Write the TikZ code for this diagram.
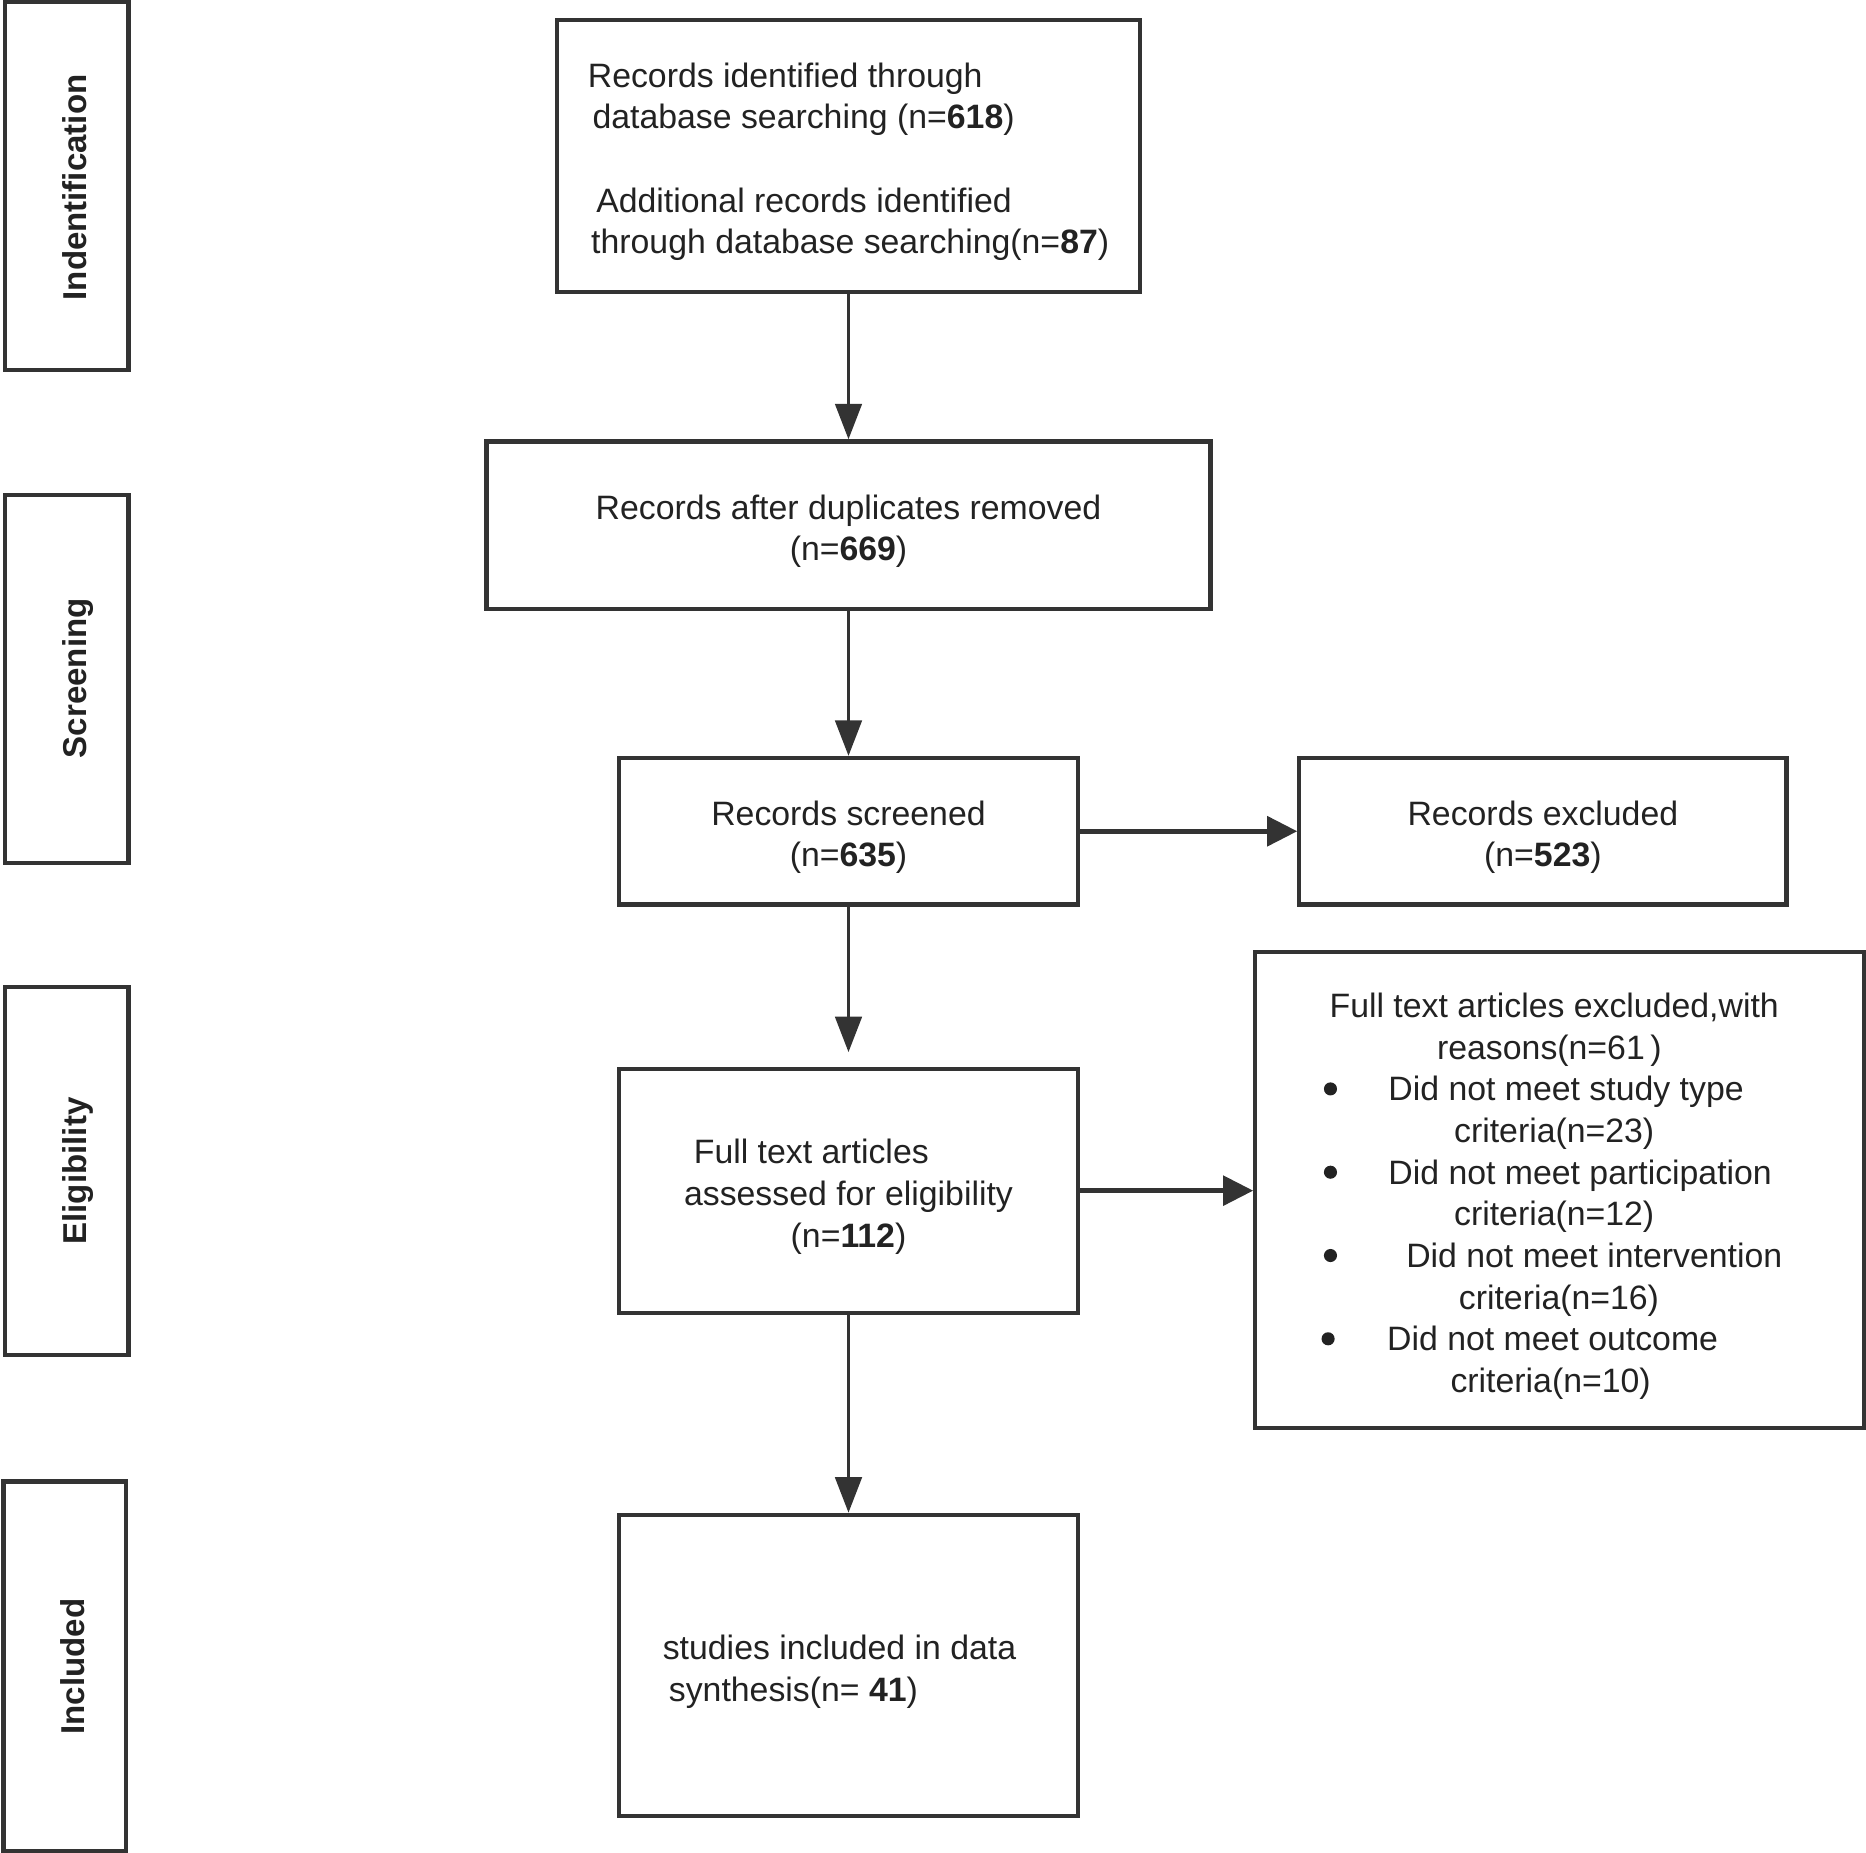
\documentclass[tikz,border=0pt]{standalone}
\usepackage{fontspec}
\setmainfont{Liberation Sans}
\usetikzlibrary{arrows.meta}
\definecolor{ln}{HTML}{333333}
\definecolor{tx}{HTML}{222222}
\begin{document}
\begin{tikzpicture}[x=0.01cm,y=-0.01cm,
  every node/.style={text=tx},
  box/.style={draw=ln, line width=1pt, inner sep=0pt},
  stagebox/.style={draw=ln, line width=1pt, inner sep=0pt, minimum width=1.04cm, minimum height=3.09cm},
  stagelabel/.style={rotate=90, font=\fontsize{7.9}{9}\selectfont\bfseries, text height=0.72em, text depth=0pt, inner sep=0pt},
  txt/.style={font=\fontsize{8.08}{9.96}\selectfont, inner sep=0pt},
  boxtxt/.style={txt, align=center},
  dot/.style={circle, fill=tx, inner sep=0pt, minimum size=0.11cm},
  arr/.style={draw=ln, line width=0.9pt, -{Triangle[length=8.5pt,width=6.3pt]}},
  harr/.style={draw=ln, line width=1.2pt, -{Triangle[length=7.2pt,width=7pt]}}
]
\useasboundingbox (0,0) rectangle (1568,1557);

% stage boxes
\node[stagebox] (sI) at (56,156.5) {};
\node[stagelabel] (lI) at (60,157.5) {Indentification};
\node[stagebox] (sS) at (56,570.5) {};
\node[stagelabel] (lS) at (60,570) {Screening};
\node[stagebox] (sE) at (56,984) {};
\node[stagelabel] (lE) at (60,984) {Eligibility};
\node[stagebox, minimum width=1.03cm, minimum height=3.10cm] (sN) at (54.5,1400) {};
\node[stagelabel] (lN) at (58,1400.5) {Included};

% flow boxes
\node[box, minimum width=4.90cm, minimum height=2.28cm] (b1) at (713,131) {};
\node[boxtxt, align=left] (t1) at ([yshift=-0.05cm]b1.center)
  {Records identified through\\\hspace*{0.14em}database searching (n=\textbf{618})\\[9.96pt]\hspace*{0.25em}Additional records identified\\\hspace*{0.1em}through database searching(n=\textbf{87})};
\node[box, minimum width=6.08cm, minimum height=1.41cm] (b2) at (713,441.5) {};
\node[boxtxt] (t2) at ([yshift=-0.05cm]b2.center) {Records after duplicates removed\\(n=\textbf{669})};
\node[box, minimum width=3.86cm, minimum height=1.23cm] (b3) at (713,698.5) {};
\node[boxtxt] (t3) at ([yshift=-0.05cm]b3.center) {Records screened\\(n=\textbf{635})};
\node[box, minimum width=4.09cm, minimum height=1.23cm] (b4) at (1296.5,698.5) {};
\node[boxtxt] (t4) at ([yshift=-0.05cm]b4.center) {Records excluded\\(n=\textbf{523})};
\node[box, minimum width=3.86cm, minimum height=2.05cm] (b5) at (713,1000.5) {};
\node[boxtxt] (t5) at ([yshift=-0.05cm]b5.center) {Full text articles\hspace*{2.2em}\\assessed for eligibility\\(n=\textbf{112})};
\node[box, minimum width=5.11cm, minimum height=4.00cm] (b6) at (1310.5,1000) {};
\node[box, minimum width=3.86cm, minimum height=2.53cm] (b7) at (713,1399.5) {};
\node[boxtxt, align=left] (t7) at ([yshift=-0.05cm]b7.center) {studies included in data\hspace*{0.53em}\\\hspace*{0.18em}synthesis(n= \textbf{41})};

% exclusion list
\node[txt, anchor=base] (e0) at (1306,855) {Full text articles excluded,with};
\node[txt, anchor=base] (e1) at (1302,890) {reasons(n=61\,)};
\node[dot] (bu1) at (1118,915) {};
\node[txt, anchor=base west] (e2) at (1166,925) {Did not meet study type};
\node[txt, anchor=base] (e3) at (1306,960) {criteria(n=23)};
\node[dot] (bu2) at (1118,985) {};
\node[txt, anchor=base west] (e4) at (1166,995) {Did not meet participation};
\node[txt, anchor=base] (e5) at (1306,1030) {criteria(n=12)};
\node[dot] (bu3) at (1118,1055) {};
\node[txt, anchor=base west] (e6) at (1181,1065) {Did not meet intervention};
\node[txt, anchor=base] (e7) at (1310,1100) {criteria(n=16)};
\node[dot] (bu4) at (1116,1125) {};
\node[txt, anchor=base west] (e8) at (1165,1135) {Did not meet outcome};
\node[txt, anchor=base] (e9) at (1303,1170) {criteria(n=10)};

% connectors
\draw[arr] (b1.south) -- (b2.north);
\draw[arr] (b2.south) -- (b3.north);
\draw[harr] (b3.east) -- (b4.west);
\draw[arr, shorten >=0.12cm] (b3.south) -- (b5.north);
\draw[harr] (b5.east) -- (b5.east -| b6.west);
\draw[arr] (b5.south) -- (b7.north);
\end{tikzpicture}
\end{document}
